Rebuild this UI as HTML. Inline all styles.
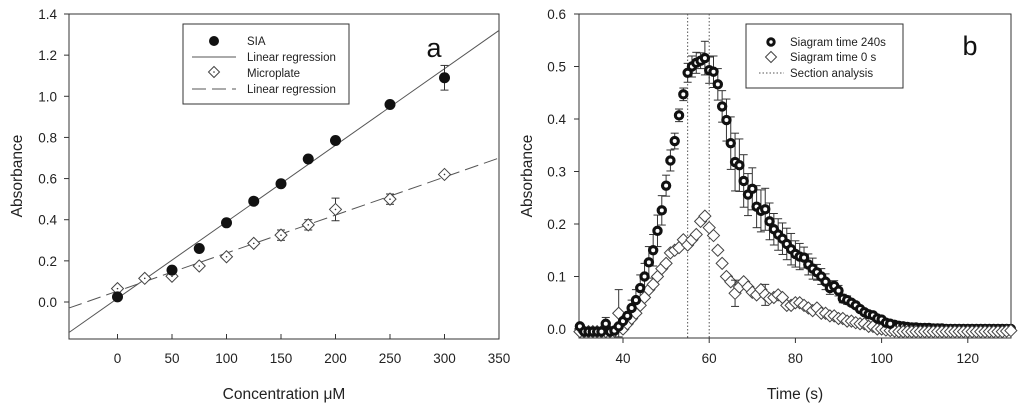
<!DOCTYPE html>
<html><head><meta charset="utf-8"><style>
body{margin:0;background:#fff;width:1024px;height:410px;overflow:hidden}
svg{font-family:"Liberation Sans",Arial,sans-serif}
</style></head><body>
<svg id="s" width="1024" height="410" viewBox="0 0 1024 410"></svg>
<script>
// ---- Panel a data ----
const siaConc=[0,50,75,100,125,150,175,200,250,300];
const siaAbs=[0.025,0.155,0.26,0.385,0.49,0.575,0.695,0.785,0.96,1.09];
const siaErr=[0,0,0,0,0,0,0,0,0,0.06];
const mpConc=[0,25,50,75,100,125,150,175,200,250,300];
const mpAbs=[0.065,0.115,0.125,0.175,0.22,0.285,0.325,0.375,0.45,0.5,0.62];
const mpErr=[0,0,0,0,0,0,0.025,0.025,0.055,0.025,0];
const siaFit=[0.0175,0.003722];
const mpFit=[0.053,0.001848];
const aXTicks=[0,50,100,150,200,250,300,350];
const aYTicks=[0.0,0.2,0.4,0.6,0.8,1.0,1.2,1.4];
// ---- Panel b data ----
const bTime=[];for(let t=30;t<=130;t++)bTime.push(t);
const s240=[0.005,-0.005,-0.005,-0.005,-0.005,-0.005,0.01,-0.005,-0.003,0.005,
0.015,0.025,0.04,0.055,0.078,0.1,0.127,0.15,0.187,0.226,
0.273,0.321,0.358,0.407,0.447,0.488,0.5,0.507,0.511,0.516,
0.493,0.49,0.466,0.424,0.398,0.354,0.318,0.312,0.282,0.256,
0.267,0.233,0.225,0.228,0.205,0.19,0.18,0.172,0.162,0.152,
0.143,0.138,0.136,0.123,0.115,0.108,0.1,0.09,0.078,0.082,
0.073,0.058,0.055,0.05,0.045,0.038,0.032,0.028,0.026,0.02,
0.018,0.012,0.01,0.008,0.006,0.005,0.004,0.003,0.003,0.002,
0.002,0.002,0.001,0.001,0.001,0,0,0,0,0,0,0,0,0,0,0,0,0,0,0,0];
const s240Err=[0,0,0,0,0,0,0.012,0,0,0,
0,0,0.015,0.02,0.025,0.025,0.03,0.03,0.03,0.028,
0.02,0.02,0.015,0.012,0.012,0.018,0.02,0.02,0.015,0.032,
0.025,0.03,0.03,0.03,0.04,0.05,0.055,0.05,0.05,0.04,
0.04,0.04,0.04,0.04,0.035,0.03,0.03,0.03,0.03,0.03,
0.025,0.025,0.02,0.02,0.02,0.015,0.015,0.015,0.012,0.01,
0.01,0.008,0.008,0.006,0.006,0.005,0.005,0.004,0.004,0.003,
0.003,0,0,0,0,0,0,0,0,0,0,0,0,0,0,0,0,0,0,0,0,0,0,0,0,0,0,0,0,0,0];
const s0=[-0.005,-0.005,-0.005,-0.005,-0.005,-0.005,-0.005,-0.005,-0.004,0.03,
0.0,0.01,0.02,0.03,0.045,0.06,0.075,0.085,0.1,0.115,
0.125,0.145,0.15,0.155,0.17,0.16,0.17,0.18,0.205,0.215,
0.193,0.178,0.15,0.125,0.1,0.09,0.068,0.08,0.09,0.08,
0.07,0.065,0.075,0.065,0.058,0.06,0.065,0.06,0.045,0.045,
0.05,0.05,0.045,0.04,0.035,0.04,0.03,0.03,0.025,0.025,
0.02,0.02,0.015,0.015,0.012,0.01,0.01,0.005,0.005,0,
0,-0.002,-0.003,-0.004,-0.005,-0.005,-0.005,-0.005,-0.005,-0.005,
-0.005,-0.005,-0.005,-0.005,-0.005,-0.005,-0.005,-0.005,-0.005,-0.005,
-0.005,-0.005,-0.005,-0.005,-0.005,-0.005,-0.005,-0.005,-0.005,-0.004,-0.003];
const s0Err=new Array(101).fill(0);s0Err[9]=0.045;s0Err[36]=0.025;s0Err[43]=0.02;
const bXTicks=[40,60,80,100,120];
const bYTicks=[0.0,0.1,0.2,0.3,0.4,0.5,0.6];
const sections=[55,60];

const NS="http://www.w3.org/2000/svg",S=document.getElementById('s');
function el(tag,at,parent,txt){const e=document.createElementNS(NS,tag);for(const k in at)e.setAttribute(k,at[k]);if(txt!==undefined)e.textContent=txt;(parent||S).appendChild(e);return e;}
const C="#333";
const ax=v=>117.5+(v/50)*54.5, ay=v=>302-(v/1.4)*288;
const bx=v=>579.9+(v-30)*4.31, by=v=>329-(v/0.1)*52.5;

// ---------- Panel a ----------
const ga=el('g',{});
const fa=el('rect',{x:69,y:14,width:430,height:325,fill:'none',stroke:C,'stroke-width':1},ga);

aXTicks.forEach(v=>{el('line',{x1:ax(v),x2:ax(v),y1:339,y2:334,stroke:C},ga);
 const t=el('text',{x:ax(v),y:363,'font-size':13.5,'text-anchor':'middle',fill:'#222'},ga,String(v));
 });
aYTicks.forEach(v=>{el('line',{x1:69,x2:64,y1:ay(v),y2:ay(v),stroke:C},ga);
 const t=el('text',{x:57,y:ay(v)+5,'font-size':13.5,'text-anchor':'end',fill:'#222'},ga,v.toFixed(1));
 });
const xta=el('text',{x:284,y:399,'font-size':15.5,'text-anchor':'middle',fill:'#222'},ga,'Concentration \u03BCM');

const yta=el('text',{x:22,y:176,'font-size':15.5,'text-anchor':'middle',fill:'#222',transform:'rotate(-90 22 176)'},ga,'Absorbance');

const la=el('text',{x:434,y:57,'font-size':27,'text-anchor':'middle',fill:'#111'},ga,'a');

const x0=-45,x1=350;
const r1=el('line',{x1:ax(x0),y1:ay(siaFit[0]+siaFit[1]*x0),x2:ax(x1),y2:ay(siaFit[0]+siaFit[1]*x1),stroke:'#555','stroke-width':1},ga);

const r2=el('line',{x1:ax(x0),y1:ay(mpFit[0]+mpFit[1]*x0),x2:ax(x1),y2:ay(mpFit[0]+mpFit[1]*x1),stroke:'#555','stroke-width':1,'stroke-dasharray':'14,6'},ga);

function errbar(g,x,y0,e,sy){if(!e)return;const t=sy(y0+e),b=sy(y0-e);
 el('line',{x1:x,x2:x,y1:t,y2:b,stroke:C},g);el('line',{x1:x-4,x2:x+4,y1:t,y2:t,stroke:C},g);el('line',{x1:x-4,x2:x+4,y1:b,y2:b,stroke:C},g);}
function diamond(g,x,y,r,dot){const p=el('polygon',{points:`${x},${y-r} ${x+r},${y} ${x},${y+r} ${x-r},${y}`,fill:'#fff',stroke:'#444','stroke-width':1},g);
 if(dot)el('circle',{cx:x,cy:y,r:0.8,fill:'#333'},g);return p;}
mpConc.forEach((c,i)=>{errbar(ga,ax(c),mpAbs[i],mpErr[i],ay);
 const p=diamond(ga,ax(c),ay(mpAbs[i]),6,true);});
siaConc.forEach((c,i)=>{errbar(ga,ax(c),siaAbs[i],siaErr[i],ay);
 const p=el('circle',{cx:ax(c),cy:ay(siaAbs[i]),r:5.5,fill:'#111'},ga);});
const lg=el('g',{},ga);
el('rect',{x:183,y:24,width:166,height:80,fill:'#fff',stroke:C},lg);
el('circle',{cx:214,cy:41,r:5,fill:'#111'},lg);
el('line',{x1:192,x2:236,y1:57,y2:57,stroke:'#555'},lg);
diamond(lg,214,72,5.5,true);
el('line',{x1:192,x2:236,y1:89,y2:89,stroke:'#555','stroke-dasharray':'14,6'},lg);
[['SIA',45],['Linear regression',61],['Microplate',77],['Linear regression',93]].forEach(([t,y])=>{
 const e=el('text',{x:247,y:y,'font-size':11.5,fill:'#222'},lg,t);});

// ---------- Panel b ----------
const gb=el('g',{});
const fb=el('rect',{x:579,y:14,width:432,height:324,fill:'none',stroke:C},gb);

bXTicks.forEach(v=>{el('line',{x1:bx(v),x2:bx(v),y1:338,y2:343,stroke:C},gb);
 const t=el('text',{x:bx(v),y:363,'font-size':13.5,'text-anchor':'middle',fill:'#222'},gb,String(v));
 });
bYTicks.forEach(v=>{el('line',{x1:579,x2:574,y1:by(v),y2:by(v),stroke:C},gb);
 const t=el('text',{x:566,y:by(v)+5,'font-size':13.5,'text-anchor':'end',fill:'#222'},gb,v.toFixed(1));
 });
const xtb=el('text',{x:795,y:399,'font-size':15.5,'text-anchor':'middle',fill:'#222'},gb,'Time (s)');

const ytb=el('text',{x:532,y:176,'font-size':15.5,'text-anchor':'middle',fill:'#222',transform:'rotate(-90 532 176)'},gb,'Absorbance');

const lb=el('text',{x:970,y:55,'font-size':27,'text-anchor':'middle',fill:'#111'},gb,'b');

sections.forEach(v=>{const l=el('line',{x1:bx(v),x2:bx(v),y1:14,y2:338,stroke:'#555','stroke-dasharray':'1.5,2'},gb);
 });
function ring(g,x,y){const c=el('circle',{cx:x,cy:y,r:3.6,fill:'#fff',stroke:'#111','stroke-width':3.2},g);return c;}
bTime.forEach((t,i)=>{errbar(gb,bx(t),s240[i],s240Err[i],by);});
// baseline 240s points lie under the diamonds
bTime.forEach((t,i)=>{if(t<=102)return;
 const c=ring(gb,bx(t),by(s240[i]));});
bTime.forEach((t,i)=>{errbar(gb,bx(t),s0[i],s0Err[i],by);
 const p=diamond(gb,bx(t),by(s0[i]),6,false);});
bTime.forEach((t,i)=>{if(t>102)return;
 const c=ring(gb,bx(t),by(s240[i]));});
const lgb=el('g',{},gb);
el('rect',{x:746,y:24,width:157,height:64,fill:'#fff',stroke:C},lgb);
el('circle',{cx:771,cy:42,r:3.2,fill:'#fff',stroke:'#111','stroke-width':3},lgb);
diamond(lgb,771,57,5.5,false);
el('line',{x1:759,x2:784,y1:73,y2:73,stroke:'#555','stroke-dasharray':'1.5,2'},lgb);
[['Siagram time 240s',46],['Siagram time 0 s',61],['Section analysis',77]].forEach(([t,y])=>{
 const e=el('text',{x:790,y:y,'font-size':11.5,fill:'#222'},lgb,t);});
</script>
</body></html>
